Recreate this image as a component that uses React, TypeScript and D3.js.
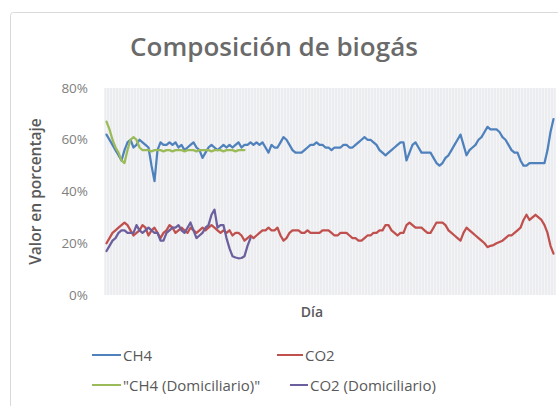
import React from "react";
import * as d3 from "d3";

const ch4: number[] = [
  62, 60, 58, 56, 54, 52, 56, 59, 60, 57, 58, 60, 59, 58, 57, 50, 44, 56, 59, 58,
  58, 59, 58, 59, 57, 58, 56, 57, 58, 59, 57, 56, 53, 55, 57, 58, 57, 56, 57, 58,
  57, 58, 57, 58, 59, 57, 58, 58, 59, 58, 59, 58, 59, 57, 55, 58, 57, 57, 59, 61,
  60, 58, 56, 55, 55, 55, 56, 57, 58, 58, 59, 58, 58, 57, 57, 56, 57, 57, 57, 58,
  58, 57, 57, 58, 59, 60, 61, 60, 60, 59, 58, 56, 55, 54, 55, 56, 57, 58, 59, 59,
  52, 55, 58, 59, 57, 55, 55, 55, 55, 53, 51, 50, 51, 53, 54, 56, 58, 60, 62, 58,
  54, 56, 57, 58, 60, 61, 63, 65, 64, 64, 64, 63, 61, 60, 58, 56, 55, 55, 52, 50,
  50, 51, 51, 51, 51, 51, 51, 56, 63, 68,
];

const co2: number[] = [
  20, 22, 24, 25, 26, 27, 28, 27, 25, 23, 24, 25, 27, 26, 23, 25, 26, 24, 22, 24,
  25, 27, 26, 24, 25, 26, 25, 24, 26, 25, 24, 25, 26, 25, 26, 27, 26, 25, 24, 25,
  24, 25, 23, 24, 24, 23, 21, 22, 23, 22, 23, 24, 25, 25, 26, 25, 25, 26, 23, 21,
  22, 24, 25, 25, 25, 24, 24, 25, 24, 24, 24, 24, 25, 25, 25, 24, 23, 23, 24, 24,
  24, 23, 22, 22, 21, 21, 22, 23, 23, 24, 24, 25, 25, 27, 27, 25, 24, 23, 24, 24,
  27, 28, 27, 26, 26, 26, 25, 24, 24, 26, 28, 28, 28, 27, 25, 24, 23, 22, 21, 24,
  26, 25, 24, 23, 22, 21, 20, 18.5, 19, 19.3, 20, 20.5, 21, 22, 23, 23, 24, 25, 26, 29,
  31, 29, 30, 31, 30, 29, 27, 24, 19, 16,
];

const ch4Dom: number[] = [
  67, 64, 60, 57, 55, 52, 51, 56, 60, 61, 60, 57, 56, 56, 56, 55.5, 56, 56, 56, 55.5,
  56, 56, 55.5, 56, 56, 56, 55.5, 56, 56, 56, 55.5, 56, 56, 56, 56, 55.5, 56, 56, 56, 55.5,
  56, 56, 56, 55.5, 56, 56, 56,
];

const co2Dom: number[] = [
  17, 19, 21, 22, 24, 25, 25, 24, 24, 24, 27, 25, 24, 25, 26, 25, 24, 24, 21, 21,
  24, 25, 26, 26, 27, 25, 24, 26, 28, 25, 22, 23, 24, 26, 27, 31, 33, 26, 27, 27,
  22, 18, 15, 14.5, 14.2, 14.3, 15, 19, 22,
];

const yTicks: number[] = [0, 20, 40, 60, 80];

const seriesNames: string[] = ["CH4", "CO2", "\"CH4 (Domiciliario)\"", "CO2 (Domiciliario)"];
const seriesColors: string[] = ["#4F81BD", "#C0504D", "#9BBB59", "#6B5F9E"];

export default function App() {
  const W = 558;
  const H = 406;
  const left = 105;
  const right = 555;
  const top = 88;
  const bottom = 295;
  const n = ch4.length;
  const x = d3
    .scaleBand<number>()
    .domain(d3.range(n))
    .range([left, right])
    .paddingInner(0)
    .paddingOuter(0);
  const y = d3.scaleLinear().domain([0, 80]).range([bottom, top]);
  const cx = (i: number) => (x(i) as number) + x.bandwidth() / 2;
  const line = d3
    .line<number>()
    .x((_, i) => cx(i))
    .y((d) => y(d));

  const all = [ch4, co2, ch4Dom, co2Dom];
  const font = "'Open Sans', 'Liberation Sans', sans-serif";

  return (
    <svg
      width={W}
      height={H}
      style={{ position: "absolute", left: 0, top: 0, background: "#fff" }}
      fontFamily={font}
    >
      <rect x={10.5} y={12.5} width={560} height={420} rx={3} fill="#fff" stroke="#d9d9d9" />
      <text x={274} y={56} textAnchor="middle" fontSize={26} fontWeight={600} fill="#6a6a6a">
        Composición de biogás
      </text>
      <rect x={left} y={top} width={right - left} height={bottom - top} fill="#f4f5f7" />
      {d3.range(n + 1).map((i) => {
        const xx = i < n ? (x(i) as number) : right;
        return (
          <line key={i} x1={xx} x2={xx} y1={top} y2={bottom} stroke="#e3e4e8" strokeWidth={1} />
        );
      })}
      {yTicks.map((t) => (
        <text
          key={t}
          x={88}
          y={y(t)}
          dy="0.35em"
          textAnchor="end"
          fontSize={13.5}
          fill="#808080"
        >
          {t}%
        </text>
      ))}
      <text
        transform={`translate(41,${(top + bottom) / 2}) rotate(-90)`}
        textAnchor="middle"
        fontSize={15.5}
        fontWeight={600}
        fill="#595959"
      >
        Valor en porcentaje
      </text>
      <text x={312} y={312} dy="0.35em" textAnchor="middle" fontSize={14} fontWeight={600} fill="#595959">
        Día
      </text>
      {all.map((s, k) => (
        <path
          key={k}
          d={line(s) || ""}
          fill="none"
          stroke={seriesColors[k]}
          strokeWidth={2.25}
          strokeLinejoin="round"
          strokeLinecap="round"
        />
      ))}
      {[
        { k: 0, lx: 92, ly: 356, lw: 29 },
        { k: 1, lx: 277, ly: 356, lw: 26 },
        { k: 2, lx: 92, ly: 386, lw: 29 },
        { k: 3, lx: 290, ly: 386, lw: 18 },
      ].map(({ k, lx, ly, lw }) => (
        <g key={k}>
          <line x1={lx} x2={lx + lw} y1={ly - 1} y2={ly - 1} stroke={seriesColors[k]} strokeWidth={2} />
          <text x={lx + lw + 2} y={ly} dy="0.35em" fontSize={15} fill="#595959">
            {seriesNames[k]}
          </text>
        </g>
      ))}
    </svg>
  );
}
